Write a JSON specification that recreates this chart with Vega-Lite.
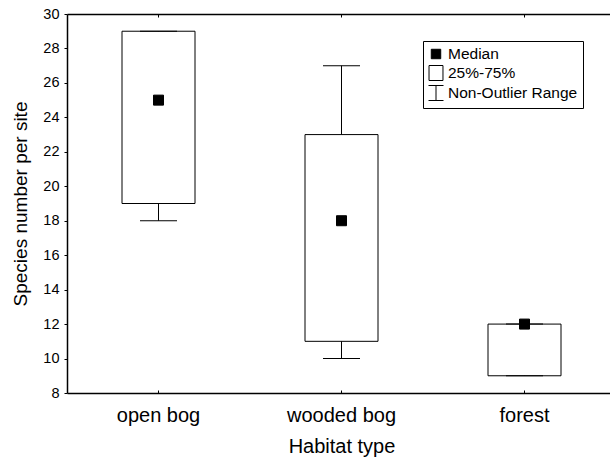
{
  "$schema": "https://vega.github.io/schema/vega-lite/v6.json",
  "autosize": "none",
  "width": 543,
  "height": 379,
  "padding": {"left": 67, "top": 14, "right": 0, "bottom": 66},
  "background": "white",
  "config": {
    "view": {"stroke": null},
    "font": "Liberation Sans",
    "axis": {
      "domainColor": "black", "tickColor": "black", "labelColor": "black", "titleColor": "black",
      "grid": false, "labelFont": "Liberation Sans", "titleFont": "Liberation Sans", "titleFontWeight": "normal",
      "domainWidth": 1.5, "tickWidth": 1, "labelOverlap": false
    },
    "legend": {"orient": "none", "legendX": 356, "legendY": 27, "strokeColor": "black",
      "fillColor": "white", "padding": 5, "labelFontSize": 15.5, "labelFont": "Liberation Sans", "labelColor": "black",
      "rowPadding": 0, "symbolSize": 225, "labelOffset": 4, "symbolStrokeWidth": 1, "cornerRadius": 0}
  },
  "data": {
    "values": [
      {"habitat": "open bog", "min": 18, "q1": 19, "median": 25, "q3": 29, "max": 29, "stat": "Median"},
      {"habitat": "wooded bog", "min": 10, "q1": 11, "median": 18, "q3": 23, "max": 27, "stat": "Median"},
      {"habitat": "forest", "min": 9, "q1": 9, "median": 12, "q3": 12, "max": 12, "stat": "Median"}
    ]
  },
  "layer": [
    {
      "mark": {"type": "rule", "color": "black", "strokeWidth": 1},
      "encoding": {
        "x": {"field": "habitat", "type": "nominal", "sort": null,
          "scale": {"range": [0, 549], "paddingInner": 0, "paddingOuter": 0},
          "axis": {"orient": "bottom", "title": "Habitat type", "labelAngle": 0, "labelFontSize": 20,
            "titleFontSize": 20, "tickSize": -3, "labelPadding": 15, "titlePadding": 11}},
        "y": {"field": "min", "type": "quantitative",
          "scale": {"domain": [8, 30], "nice": false, "zero": false},
          "axis": {"title": "Species number per site", "values": [8, 10, 12, 14, 16, 18, 20, 22, 24, 26, 28, 30],
            "labelFontSize": 14.5, "titleFontSize": 19, "tickSize": 3, "labelPadding": 5, "titlePadding": 12, "labelOverlap": false}},
        "y2": {"field": "max"}
      }
    },
    {
      "mark": {"type": "bar", "fill": "white", "stroke": "black", "strokeWidth": 1, "size": 73},
      "encoding": {
        "x": {"field": "habitat", "type": "nominal", "sort": null,
          "scale": {"range": [0, 549], "paddingInner": 0, "paddingOuter": 0},
          "axis": {"orient": "top", "title": null, "labels": false, "tickSize": -3}},
        "y": {"field": "q1", "type": "quantitative",
          "axis": {"title": "Species number per site", "values": [8, 10, 12, 14, 16, 18, 20, 22, 24, 26, 28, 30],
            "labelFontSize": 14.5, "titleFontSize": 19, "tickSize": 3, "labelPadding": 5, "titlePadding": 12, "labelOverlap": false}},
        "y2": {"field": "q3"}
      }
    },
    {
      "mark": {"type": "tick", "color": "black", "size": 37, "thickness": 1, "opacity": 1, "orient": "horizontal"},
      "encoding": {
        "x": {"field": "habitat", "type": "nominal", "sort": null, "axis": null},
        "y": {"field": "min", "type": "quantitative",
          "axis": {"title": "Species number per site", "values": [8, 10, 12, 14, 16, 18, 20, 22, 24, 26, 28, 30],
            "labelFontSize": 14.5, "titleFontSize": 19, "tickSize": 3, "labelPadding": 5, "titlePadding": 12, "labelOverlap": false}}
      }
    },
    {
      "mark": {"type": "tick", "color": "black", "size": 37, "thickness": 1, "opacity": 1, "orient": "horizontal"},
      "encoding": {
        "x": {"field": "habitat", "type": "nominal", "sort": null, "axis": null},
        "y": {"field": "max", "type": "quantitative",
          "axis": {"title": "Species number per site", "values": [8, 10, 12, 14, 16, 18, 20, 22, 24, 26, 28, 30],
            "labelFontSize": 14.5, "titleFontSize": 19, "tickSize": 3, "labelPadding": 5, "titlePadding": 12, "labelOverlap": false}}
      }
    },
    {
      "mark": {"type": "point", "size": 252, "strokeWidth": 1, "opacity": 1, "filled": true},
      "encoding": {
        "x": {"field": "habitat", "type": "nominal", "sort": null, "axis": null},
        "y": {"field": "median", "type": "quantitative",
          "axis": {"title": "Species number per site", "values": [8, 10, 12, 14, 16, 18, 20, 22, 24, 26, 28, 30],
            "labelFontSize": 14.5, "titleFontSize": 19, "tickSize": 3, "labelPadding": 5, "titlePadding": 12, "labelOverlap": false}},
        "shape": {"field": "stat", "type": "nominal",
          "scale": {"domain": ["Median", "25%-75%", "Non-Outlier Range"],
            "range": ["M-0.63,-0.63H0.63V0.63H-0.63Z", "M-0.93,-1H0.93V1H-0.93Z", "M-1,-1H1M0,-1V1M-1,1H1"]},
          "legend": {"title": null}},
        "fill": {"field": "stat", "type": "nominal",
          "scale": {"domain": ["Median", "25%-75%", "Non-Outlier Range"], "range": ["black", "white", "white"]},
          "legend": {"title": null}},
        "stroke": {"field": "stat", "type": "nominal",
          "scale": {"domain": ["Median", "25%-75%", "Non-Outlier Range"], "range": ["black", "black", "black"]},
          "legend": {"title": null}}
      }
    }
  ],
  "resolve": {"axis": {"x": "independent"}}
}
